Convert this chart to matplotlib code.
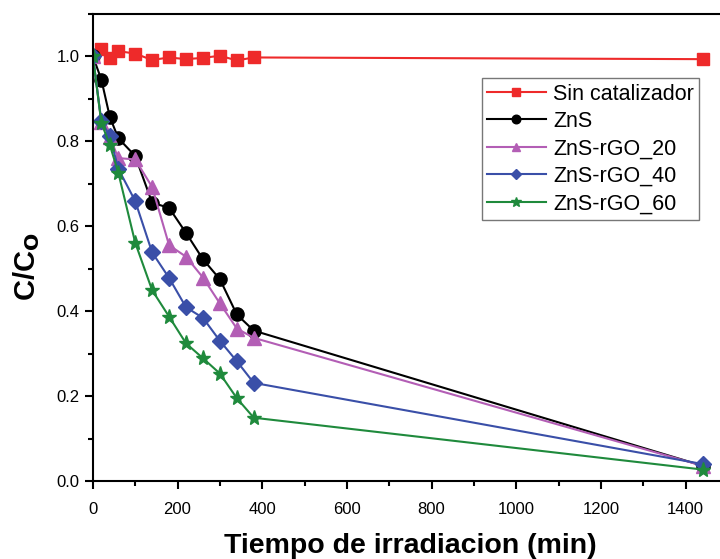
import matplotlib
matplotlib.use("Agg")
import matplotlib.pyplot as plt
from matplotlib.ticker import MultipleLocator

plt.rcParams['font.family'] = ['Liberation Sans', 'DejaVu Sans']

tiempo = [0, 20, 40, 60, 100, 140, 180, 220, 260, 300, 340, 380, 1440]

sin_cat = [1.0, 1.018, 0.996, 1.012, 1.006, 0.991, 0.997, 0.993, 0.996, 1.001, 0.990, 0.997, 0.993]
zns = [1.0, 0.945, 0.857, 0.807, 0.765, 0.655, 0.643, 0.584, 0.522, 0.475, 0.392, 0.354, 0.036]
zns_20 = [1.0, 0.845, 0.81, 0.76, 0.757, 0.692, 0.555, 0.528, 0.479, 0.418, 0.359, 0.337, 0.036]
zns_40 = [1.0, 0.847, 0.812, 0.735, 0.659, 0.538, 0.478, 0.409, 0.384, 0.330, 0.282, 0.231, 0.040]
zns_60 = [1.0, 0.843, 0.791, 0.726, 0.561, 0.449, 0.387, 0.324, 0.289, 0.253, 0.195, 0.149, 0.027]

fig = plt.figure(figsize=(7.2, 5.59), dpi=100)
ax = fig.add_axes([0.129, 0.1395, 0.882, 0.836])

ax.plot(tiempo, sin_cat, color='#ee2a2a', marker='s', markersize=8.5, lw=1.5, label='Sin catalizador')
ax.plot(tiempo, zns, color='black', marker='o', markersize=9.5, lw=1.5, label='ZnS')
ax.plot(tiempo, zns_20, color='#b35eb5', marker='^', markersize=9.5, lw=1.5, label='ZnS-rGO_20')
ax.plot(tiempo, zns_40, color='#3a4fa8', marker='D', markersize=8, lw=1.5, label='ZnS-rGO_40')
ax.plot(tiempo, zns_60, color='#1f8a3c', marker='*', markersize=11, lw=1.5, label='ZnS-rGO_60')

ax.set_xlim(0, 1500)
ax.set_ylim(0, 1.1)
ax.xaxis.set_major_locator(MultipleLocator(200))
ax.xaxis.set_minor_locator(MultipleLocator(100))
ax.yaxis.set_major_locator(MultipleLocator(0.2))
ax.yaxis.set_minor_locator(MultipleLocator(0.1))
ax.yaxis.set_major_formatter(plt.FormatStrFormatter('%.1f'))
ax.tick_params(which='major', direction='out', length=6, width=1.5, labelsize=12)
ax.tick_params(axis='x', which='major', pad=9)
ax.tick_params(which='minor', direction='out', length=3.5, width=1.5)
ax.tick_params(top=False, right=False)
for s in ax.spines.values():
    s.set_linewidth(1.5)

ax.set_xlabel('Tiempo de irradiacion (min)', fontsize=20.5, fontweight='bold')
ax.xaxis.set_label_coords(0.5, -0.112)
ax.set_ylabel(r'C/C$_\mathbf{O}$', fontsize=21, fontweight='bold')
ax.yaxis.set_label_coords(-0.08, 0.458)

leg = ax.legend(loc='upper right', bbox_to_anchor=(0.955, 0.862), fontsize=15.5,
                frameon=True, fancybox=False, edgecolor='#555555', handlelength=2.7,
                markerscale=0.65, borderpad=0.25, labelspacing=0.3, handletextpad=0.35,
                borderaxespad=0)
leg.get_frame().set_linewidth(1.0)

fig.savefig('out.png', dpi=100)
